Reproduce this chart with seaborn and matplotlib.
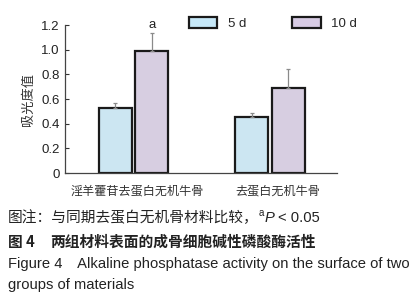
import matplotlib
matplotlib.use("Agg")
import matplotlib.pyplot as plt
import matplotlib.transforms as mtransforms
import seaborn as sns
import pandas as pd
from matplotlib.patches import Patch

groups = ["淫羊藿苷去蛋白无机牛骨", "去蛋白无机牛骨"]
days = ["5 d", "10 d"]
values_5d = [0.53, 0.457]
values_10d = [0.986, 0.693]
err_5d = [0.04, 0.033]
err_10d = [0.15, 0.15]
yticks = [0, 0.2, 0.4, 0.6, 0.8, 1.0, 1.2]
ytick_labels = ["0", "0.2", "0.4", "0.6", "0.8", "1.0", "1.2"]
colors = {"5 d": "#c6e8f8", "10 d": "#d7cbe4"}

df = pd.DataFrame({
    "group": groups * 2,
    "day": [days[0]] * 2 + [days[1]] * 2,
    "value": values_5d + values_10d,
    "err": err_5d + err_10d,
})

sns.set_style("white")
plt.rcParams["font.family"] = ["Liberation Sans", "Noto Sans CJK SC", "DejaVu Sans"]
cjk = ["Noto Sans CJK SC", "DejaVu Sans"]

W, H = 419, 300
fig = plt.figure(figsize=(W / 100, H / 100), dpi=100)
ax = fig.add_axes([65 / W, 1 - 173 / H, (337 - 65) / W, (173 - 25) / H])

sns.barplot(data=df, x="group", y="value", hue="day", order=groups, hue_order=days,
            palette=colors, width=0.535, gap=0.1, errorbar=None, ax=ax,
            edgecolor="#1a1a1a", linewidth=1.6, legend=False)

# error bars (upper only)
bars = [p for p in ax.patches]
errs = df["err"].tolist()
vals = df["value"].tolist()
for p, v, e in zip(bars, vals, errs):
    cx = p.get_x() + p.get_width() / 2
    ax.errorbar([cx], [v], yerr=[[0], [e]], fmt="none", ecolor="#8a8a8a",
                elinewidth=0.9, capsize=1.5, capthick=0.9, zorder=1)
# significance mark
p10 = bars[2]
ax.text(p10.get_x() + p10.get_width() / 2, 1.2, "a", ha="center", va="center",
        fontsize=9.5, color="#222222")

ax.set_xlim(-0.502, 1.49)
ax.set_ylim(0, 1.2)
ax.set_yticks(yticks)
ax.set_yticklabels(ytick_labels, fontsize=9.5, color="#222222")
ax.set_xticks([0, 1])
ax.set_xticklabels(groups, fontsize=8.7, color="#333333", family=cjk)
ax.tick_params(axis="x", length=0, pad=8)
ax.tick_params(axis="y", direction="in", length=3, width=0.8, color="#333333", pad=4, left=True)
for lbl, dx in zip(ax.get_xticklabels(), [4, 8]):
    lbl.set_transform(lbl.get_transform() + mtransforms.ScaledTranslation(dx / 100, 0, fig.dpi_scale_trans))
ax.set_xlabel("")
ax.set_ylabel("吸光度值", fontsize=9.5, family=cjk, color="#333333", labelpad=4)
for s in ["top", "right"]:
    ax.spines[s].set_visible(False)
for s in ["left", "bottom"]:
    ax.spines[s].set_color("#444444")
    ax.spines[s].set_linewidth(0.9)

handles = [Patch(facecolor=colors[d], edgecolor="#1a1a1a", linewidth=1.6, label=d) for d in days]
fig.legend(handles=handles, loc="center left", bbox_to_anchor=(189 / W, 1 - 23.5 / H),
           ncol=2, frameon=False, fontsize=9.5, handlelength=2.15, handleheight=0.85,
           handletextpad=0.8, columnspacing=3.5, borderpad=0, borderaxespad=0)

# captions
tc = "#222222"
fs = 10.6
fig.text(8 / W, 1 - 218 / H, "图注：与同期去蛋白无机骨材料比较，", family=cjk, fontsize=fs,
         va="center", color=tc)
fig.text(259 / W, 1 - 213.5 / H, "a", fontsize=7, va="center", color=tc)
fig.text(265 / W, 1 - 218 / H, "P", fontsize=fs, style="italic", va="center", color=tc)
fig.text(278 / W, 1 - 218 / H, "< 0.05", fontsize=fs, va="center", color=tc)
fig.text(8 / W, 1 - 242 / H, "图 4", family=cjk, fontsize=fs, va="center", color=tc, weight="bold")
fig.text(50 / W, 1 - 242 / H, "两组材料表面的成骨细胞碱性磷酸酶活性", family=cjk, fontsize=fs,
         va="center", color=tc, weight="bold")
fig.text(8 / W, 1 - 264 / H, "Figure 4\u2003Alkaline phosphatase activity on the surface of two",
         fontsize=fs, va="center", color=tc)
fig.text(8 / W, 1 - 285 / H, "groups of materials", fontsize=fs, va="center", color=tc)

fig.savefig("out.png", dpi=100)
